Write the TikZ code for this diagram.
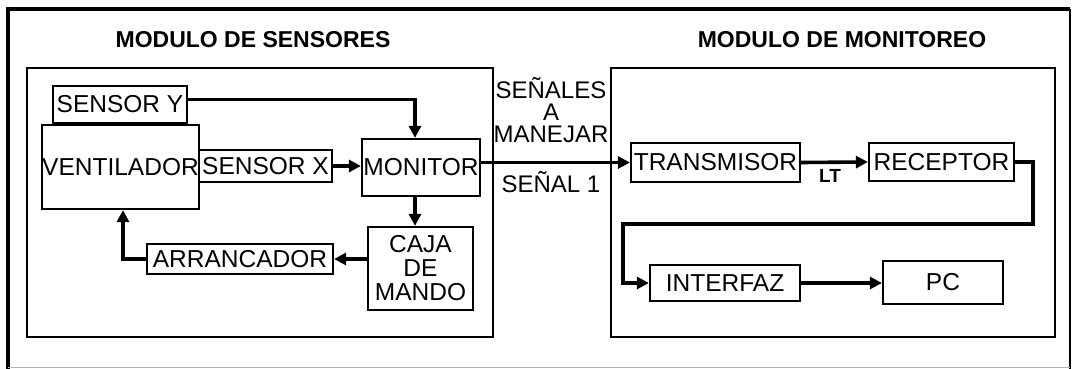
\documentclass[tikz,border=0pt]{standalone}
\usepackage{fontspec}
\setmainfont{Liberation Sans}
\usetikzlibrary{arrows.meta}
\begin{document}
\begin{tikzpicture}[x=1pt,y=-1pt,
  box/.style={draw, line width=2.2pt, inner sep=0pt, align=center,
    font=\fontsize{24.5}{24}\selectfont},
  module/.style={draw, line width=1.8pt, inner sep=0pt},
  conn/.style={line width=3.6pt, -{Triangle[length=12pt,width=12pt]}},
  title/.style={font=\bfseries\fontsize{23}{24}\selectfont, inner sep=0pt},
  lbl/.style={font=\fontsize{24}{22}\selectfont, align=center, inner sep=0pt}]
\useasboundingbox (0,0) rectangle (1074,369);
% outer frame
\draw[line width=3.5pt] (8,369) -- (8,9) -- (1070,9);
\draw[line width=2.2pt] (1070,9) -- (1070,369);
\draw[black!30, line width=1pt] (8,367) -- (1070,367);
% modules
\node[module, minimum width=466pt, minimum height=269pt] (lm) at (260,202.5) {};
\node[module, minimum width=444pt, minimum height=269pt] (rm) at (833,202.5) {};
\node[title] (t1) at (253,40) {MODULO DE SENSORES};
\node[title] (t2) at (842,40) {MODULO DE MONITOREO};
% left blocks
\node[box, minimum width=134pt, minimum height=37pt] (sy) at (120,104.5) {SENSOR Y};
\node[box, minimum width=157pt, minimum height=84pt] (vent) at (120.5,167) {VENTILADOR};
\node[box, minimum width=133pt, minimum height=32pt] (sx) at (265.5,166) {SENSOR X};
\node[box, minimum width=118pt, minimum height=57pt] (mon) at (421,167.5) {MONITOR};
\node[box, minimum width=105pt, minimum height=83pt] (caja) at (420.5,268.5) {CAJA\\DE\\MANDO};
\node[box, minimum width=186pt, minimum height=30pt] (arr) at (240,259) {ARRANCADOR};
% right blocks
\node[box, minimum width=169pt, minimum height=39pt] (tx) at (715.5,162.5) {TRANSMISOR};
\node[box, minimum width=145pt, minimum height=38pt] (rx) at (941.5,162) {RECEPTOR};
\node[box, minimum width=150pt, minimum height=36pt] (ifz) at (725,283) {INTERFAZ};
\node[box, minimum width=120pt, minimum height=43pt] (pc) at (943,282.5) {PC};
% labels
\node[lbl] (sen) at (551,110) {SEÑALES\\A\\MANEJAR};
\node[lbl] (s1) at (551,182) {SEÑAL 1};
\node[font=\bfseries\fontsize{19}{20}\selectfont, inner sep=0pt] (lt) at (830,176) {LT};
% connectors
\draw[conn] ([yshift=5pt]sy.east) -- ([yshift=5pt,xshift=-6pt]sy.east -| mon.north) -- ([xshift=-6pt]mon.north);
\draw[conn] (sx.east) -- (sx.east -| mon.west);
\draw[conn] ([xshift=-6pt]mon.south) -- ([xshift=-6pt]mon.south |- caja.north);
\draw[conn] (arr.east -| caja.west) -- (arr.east);
\draw[conn] (arr.west) -- ([xshift=2.5pt]arr.west -| vent.south) -- ([xshift=2.5pt]vent.south);
\draw[conn] (mon.east |- tx.west) -- (tx.west);
\draw[conn] (tx.east) -- (rx.west);
\coordinate (c1) at (1033,224);
\coordinate (c2) at (623,224);
\draw[conn] (rx.east) -| (c1) -- (c2) |- (ifz.west);
\draw[conn] (ifz.east) -- (ifz.east -| pc.west);
\end{tikzpicture}
\end{document}
